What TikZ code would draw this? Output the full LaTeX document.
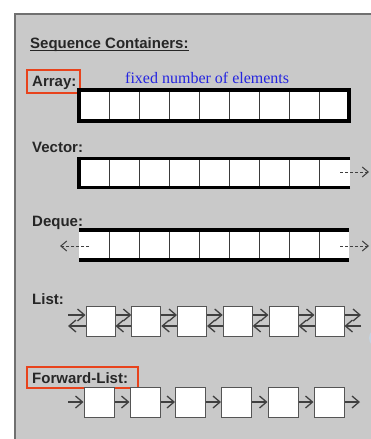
\documentclass[tikz,border=0pt]{standalone}
\usepackage{fontspec}
\setmainfont{Liberation Sans}
\newfontfamily\notefont{Liberation Serif}
\usetikzlibrary{arrows.meta}
\definecolor{panelgray}{HTML}{C9C9C9}
\definecolor{panelframe}{HTML}{707070}
\definecolor{labelink}{HTML}{262626}
\definecolor{notelink}{HTML}{2424E0}
\definecolor{marker}{HTML}{E8431C}
\definecolor{cellline}{HTML}{3A3A3A}
\definecolor{boxline}{HTML}{555555}
\definecolor{linkink}{HTML}{404040}
\definecolor{bubble}{HTML}{C4D4E2}
\begin{document}
\begin{tikzpicture}[x=1pt,y=-1pt,
  labeltext/.style={anchor=base west,inner sep=0pt,text=labelink,
    font=\fontsize{15}{18}\selectfont\bfseries},
  notetext/.style={anchor=base west,inner sep=0pt,text=notelink,
    font=\notefont\fontsize{16}{19}\selectfont},
  tagbox/.style={draw=marker,line width=2pt},
  thickframe/.style={line width=3.6pt,black},
  divider/.style={line width=0.9pt,cellline},
  growarrow/.style={linkink,line width=1pt,dash pattern=on 3.2pt off 1.8pt,
    -{Straight Barb[length=6pt,width=10pt]}},
  nodebox/.style={draw=boxline,fill=white,line width=1pt,inner sep=0pt,
    minimum width=29pt,minimum height=30pt},
  linkarrow/.style={linkink,line width=1.3pt,-{Straight Barb[length=7pt,width=12pt]}}]
\useasboundingbox (0,0) rectangle (371,439);
\fill[white] (0,0) rectangle (371,439);
\fill[panelgray] (15,14) rectangle (371,439);
\draw[panelframe,line width=1.2pt] (15,439) -- (15,14) -- (371,14);
\fill[bubble] (379,338) circle (10);

% heading
\node[labeltext] (title) at (30,48) {Sequence Containers:};
\draw[labelink,line width=1.6pt] ([yshift=-2.5pt]title.base west) -- ([yshift=-2.5pt]title.base east);

% array: fixed size, closed on both ends
\node[labeltext] (arr) at (32,86.5) {Array:};
\draw[tagbox] (27,70) rectangle (80,93);
\node[notetext] (fixed) at (125,83) {fixed number of elements};
\fill[white] (79,90) rectangle (349,121);
\foreach \i in {1,...,8} \draw[divider] (80+29.9*\i,90) -- (80+29.9*\i,121);
\draw[thickframe] (79,90) rectangle (349,121);

% vector: grows at the back
\node[labeltext] (vec) at (32,152) {Vector:};
\fill[white] (79,158.5) rectangle (350,187.5);
\foreach \i in {1,...,8} \draw[divider] (80+29.9*\i,158.5) -- (80+29.9*\i,187.5);
\draw[thickframe] (350,158.5) -- (79,158.5);
\draw[thickframe] (350,187.5) -- (79,187.5);
\draw[thickframe,line width=4pt] (79,156.7) -- (79,189.3);
\coordinate (vtail) at (340,172);
\coordinate (vhead) at (369,172);
\draw[growarrow] (vtail) -- (vhead);

% deque: grows at both ends
\node[labeltext] (deq) at (32,226) {Deque:};
\fill[white] (79,230) rectangle (349,260);
\foreach \i in {1,...,8} \draw[divider] (80+29.9*\i,230) -- (80+29.9*\i,260);
\draw[thickframe] (79,230) -- (349,230);
\draw[thickframe] (79,260) -- (349,260);
\coordinate (dltail) at (89,246);
\coordinate (dlhead) at (60,246);
\coordinate (drtail) at (340,246);
\coordinate (drhead) at (369,246);
\draw[growarrow] (dltail) -- (dlhead);
\draw[growarrow] (drtail) -- (drhead);

% list: doubly linked
\node[labeltext] (lst) at (32,304) {List:};
\foreach \i/\x in {1/100.5,2/146.3,3/192,4/237.7,5/283.5,6/329.5}
  \node[nodebox] (L\i) at (\x,321) {};
\coordinate (lin) at (68,321);
\coordinate (lout) at (361,321);
\draw[linkarrow] ([yshift=6pt]lin) -- ([yshift=6pt]L1.west);
\draw[linkarrow] ([yshift=-5pt]L1.west) -- ([yshift=-5pt]lin);
\foreach \a/\b in {1/2,2/3,3/4,4/5,5/6}{
  \draw[linkarrow] ([yshift=6pt]L\a.east) -- ([yshift=6pt]L\b.west);
  \draw[linkarrow] ([yshift=-5pt]L\b.west) -- ([yshift=-5pt]L\a.east);
}
\draw[linkarrow] ([yshift=6pt]L6.east) -- ([yshift=6pt]lout);
\draw[linkarrow] ([yshift=-5pt]lout) -- ([yshift=-5pt]L6.east);

% forward list: singly linked
\node[labeltext] (fwd) at (32,383) {Forward-List:};
\draw[tagbox] (27,367) rectangle (138,388);
\foreach \i/\x in {1/99,2/145,3/190.5,4/236.5,5/283,6/329}
  \node[nodebox,minimum width=30pt] (F\i) at (\x,402) {};
\coordinate (fin) at (68,402);
\coordinate (fout) at (360,402);
\draw[linkarrow] (fin) -- (F1.west);
\foreach \a/\b in {1/2,2/3,3/4,4/5,5/6} \draw[linkarrow] (F\a.east) -- (F\b.west);
\draw[linkarrow] (F6.east) -- (fout);
\end{tikzpicture}
\end{document}
